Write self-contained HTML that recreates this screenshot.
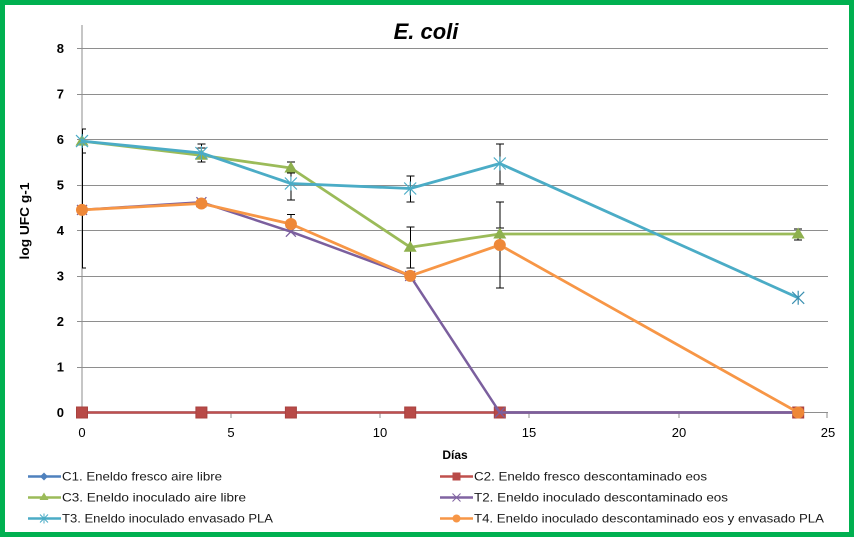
<!DOCTYPE html>
<html><head><meta charset="utf-8"><style>
html,body{margin:0;padding:0;background:#fff;}
svg{display:block;}
text{font-family:"Liberation Sans",Arial,sans-serif;}
</style></head><body>
<svg width="854" height="537" viewBox="0 0 854 537" xmlns="http://www.w3.org/2000/svg">
<rect x="0" y="0" width="854" height="537" fill="#ffffff"/>
<!-- border -->
<rect x="2.5" y="2.5" width="849" height="532" fill="none" stroke="#00B050" stroke-width="5"/>

<!-- title -->
<text x="426" y="39" font-size="22" font-weight="bold" font-style="italic" text-anchor="middle" fill="#000">E. coli</text>

<!-- gridlines -->
<g stroke="#8e8e8e" stroke-width="1" shape-rendering="crispEdges">
<line x1="77" y1="48.5" x2="828" y2="48.5"/>
<line x1="77" y1="94.5" x2="828" y2="94.5"/>
<line x1="77" y1="139.5" x2="828" y2="139.5"/>
<line x1="77" y1="185.5" x2="828" y2="185.5"/>
<line x1="77" y1="230.5" x2="828" y2="230.5"/>
<line x1="77" y1="276.5" x2="828" y2="276.5"/>
<line x1="77" y1="321.5" x2="828" y2="321.5"/>
<line x1="77" y1="367.5" x2="828" y2="367.5"/>
<line x1="77" y1="412.5" x2="828" y2="412.5"/>
<!-- y axis -->
<line x1="82" y1="25" x2="82" y2="413"/>
<!-- x ticks -->
<line x1="82" y1="412" x2="82" y2="418"/>
<line x1="231" y1="412" x2="231" y2="418"/>
<line x1="380" y1="412" x2="380" y2="418"/>
<line x1="529" y1="412" x2="529" y2="418"/>
<line x1="679" y1="412" x2="679" y2="418"/>
<line x1="827" y1="412" x2="827" y2="418"/>
</g>

<!-- y tick labels -->
<g font-size="13" font-weight="bold" text-anchor="end" fill="#000">
<text x="64" y="53">8</text>
<text x="64" y="98.5">7</text>
<text x="64" y="144">6</text>
<text x="64" y="189.5">5</text>
<text x="64" y="235">4</text>
<text x="64" y="280.5">3</text>
<text x="64" y="326">2</text>
<text x="64" y="371.5">1</text>
<text x="64" y="417">0</text>
</g>
<!-- x tick labels -->
<g font-size="13" text-anchor="middle" fill="#000">
<text x="82" y="437">0</text>
<text x="231" y="437">5</text>
<text x="380" y="437">10</text>
<text x="529" y="437">15</text>
<text x="679" y="437">20</text>
<text x="828" y="437">25</text>
</g>
<text x="455" y="459" font-size="12" font-weight="bold" text-anchor="middle" fill="#000">Días</text>
<text transform="translate(29,221) rotate(-90)" font-size="12.5" font-weight="bold" text-anchor="middle" textLength="77" lengthAdjust="spacingAndGlyphs" fill="#000">log UFC g-1</text>

<!-- error bars -->
<g stroke="#000" stroke-width="1" fill="none">
<path d="M82.5 129 V268 M82 129 H86 M82 153 H86 M82 268 H86"/>
<path d="M201.5 144 V162 M197.5 144 H205.5 M197.5 148 H205.5 M197.5 162 H205.5"/>
<path d="M291 162 V200 M287 162 H295 M287 173 H295 M287 200 H295 M291 214.5 V222 M287 214.5 H295"/>
<path d="M410.5 176 V202 M406.5 176 H414.5 M406.5 202 H414.5 M410.5 227 V268 M406.5 227 H414.5 M406.5 268 H414.5"/>
<path d="M500 144 V184 M496 144 H504 M496 184 H504 M500 202 V288 M496 202 H504 M496 228 H504 M496 288 H504"/>
<path d="M798 229 V240 M794 229 H802 M794 240 H802"/>
</g>

<!-- C1 blue (zeros, hidden) -->
<polyline points="82,412.5 201.4,412.5 290.9,412.5 410.2,412.5 499.8,412.5 798.2,412.5" fill="none" stroke="#4F81BD" stroke-width="2.5"/>
<!-- C2 red -->
<polyline points="82,412.5 201.4,412.5 290.9,412.5 410.2,412.5 499.8,412.5 798.2,412.5" fill="none" stroke="#C0504D" stroke-width="2.5"/>
<g fill="#B84A47" stroke="#A8423F" stroke-width="1">
<rect x="76.5" y="407" width="11" height="11"/>
<rect x="195.9" y="407" width="11" height="11"/>
<rect x="285.4" y="407" width="11" height="11"/>
<rect x="404.7" y="407" width="11" height="11"/>
<rect x="494.3" y="407" width="11" height="11"/>
<rect x="792.7" y="407" width="11" height="11"/>
</g>
<!-- C3 green -->
<polyline points="82,141.1 201.4,155.3 290.9,168 410.2,247.2 499.8,234 798.2,234" fill="none" stroke="#9BBB59" stroke-width="2.8" stroke-linejoin="round"/>
<g fill="#8EB04E">
<polygon points="82,134.6 88.5,145.6 75.5,145.6"/>
<polygon points="201.4,148.8 207.9,159.8 194.9,159.8"/>
<polygon points="290.9,161.5 297.4,172.5 284.4,172.5"/>
<polygon points="410.2,240.7 416.7,251.7 403.7,251.7"/>
<polygon points="499.8,227.5 506.3,238.5 493.3,238.5"/>
<polygon points="798.2,227.5 804.7,238.5 791.7,238.5"/>
</g>
<!-- T2 purple -->
<polyline points="82,209.9 201.4,202.2 290.9,231.7 410.2,275.9 499.8,412.5 798.2,412.5" fill="none" stroke="#7B5F9E" stroke-width="2.5" stroke-linejoin="round"/>
<g stroke="#7B5F9E" stroke-width="1.3" fill="none">
<path d="M77 204.9 L87 214.9 M77 214.9 L87 204.9"/>
<path d="M196.4 197.2 L206.4 207.2 M196.4 207.2 L206.4 197.2"/>
<path d="M285.9 226.7 L295.9 236.7 M285.9 236.7 L295.9 226.7"/>
<path d="M405.2 270.9 L415.2 280.9 M405.2 280.9 L415.2 270.9"/>
<path d="M494.8 407.5 L504.8 417.5 M494.8 417.5 L504.8 407.5"/>
</g>
<!-- T3 teal -->
<polyline points="82,141.1 201.4,153 290.9,183.5 410.2,188.5 499.8,163.5 798.2,297.8" fill="none" stroke="#4BACC6" stroke-width="2.8" stroke-linejoin="round"/>
<g stroke="#4BACC6" stroke-width="1.2" fill="none">
<path d="M76 135.1 L88 147.1 M76 147.1 L88 135.1 M82 134.1 V148.1"/>
<path d="M195.4 147 L207.4 159 M195.4 159 L207.4 147 M201.4 146 V160"/>
<path d="M284.9 177.5 L296.9 189.5 M284.9 189.5 L296.9 177.5 M290.9 176.5 V190.5"/>
<path d="M404.2 182.5 L416.2 194.5 M404.2 194.5 L416.2 182.5 M410.2 181.5 V195.5"/>
<path d="M493.8 157.5 L505.8 169.5 M493.8 169.5 L505.8 157.5 M499.8 156.5 V170.5"/>
<path d="M792.2 291.8 L804.2 303.8 M792.2 303.8 L804.2 291.8 M798.2 290.8 V304.8" stroke="#3A8FB0"/>
</g>
<!-- T4 orange -->
<polyline points="82,209.9 201.4,203.5 290.9,224 410.2,275.9 499.8,245 798.2,412.5" fill="none" stroke="#F79646" stroke-width="2.8" stroke-linejoin="round"/>
<g fill="#EE8838">
<circle cx="82" cy="209.9" r="6"/>
<circle cx="201.4" cy="203.5" r="6"/>
<circle cx="290.9" cy="224" r="6"/>
<circle cx="410.2" cy="275.9" r="6"/>
<circle cx="499.8" cy="245" r="6"/>
<circle cx="798.2" cy="412.5" r="6"/>
</g>

<!-- legend -->
<g>
<line x1="28" y1="476.5" x2="61" y2="476.5" stroke="#4F81BD" stroke-width="2.5"/>
<polygon points="44,472.5 48,476.5 44,480.5 40,476.5" fill="#4F81BD"/>
<line x1="28" y1="497.5" x2="61" y2="497.5" stroke="#9BBB59" stroke-width="2.5"/>
<polygon points="44,492.5 48.5,500 39.5,500" fill="#9BBB59"/>
<line x1="28" y1="518.5" x2="61" y2="518.5" stroke="#4BACC6" stroke-width="2.5"/>
<path d="M40 514.5 L48 522.5 M40 522.5 L48 514.5 M44 513.5 V523.5" stroke="#4BACC6" stroke-width="1"/>

<line x1="440" y1="476.5" x2="473" y2="476.5" stroke="#C0504D" stroke-width="2.5"/>
<rect x="452.5" y="472.5" width="8" height="8" fill="#B84A47"/>
<line x1="440" y1="497.5" x2="473" y2="497.5" stroke="#8064A2" stroke-width="2.5"/>
<path d="M452.5 493.5 L460.5 501.5 M452.5 501.5 L460.5 493.5" stroke="#8064A2" stroke-width="1"/>
<line x1="440" y1="518.5" x2="473" y2="518.5" stroke="#F79646" stroke-width="2.5"/>
<circle cx="456.5" cy="518.5" r="4" fill="#F79646"/>
</g>
<g font-size="12" fill="#1a1a1a" style="white-space:pre">
<text x="62" y="480.5" textLength="160" lengthAdjust="spacingAndGlyphs">C1. Eneldo fresco aire libre</text>
<text x="62" y="501.5" textLength="184" lengthAdjust="spacingAndGlyphs">C3. Eneldo inoculado  aire libre</text>
<text x="62" y="522.5" textLength="211" lengthAdjust="spacingAndGlyphs">T3. Eneldo inoculado  envasado PLA</text>
<text x="474" y="480.5" textLength="233" lengthAdjust="spacingAndGlyphs">C2. Eneldo fresco descontaminado eos</text>
<text x="474" y="501.5" textLength="254" lengthAdjust="spacingAndGlyphs">T2. Eneldo inoculado  descontaminado eos</text>
<text x="474" y="522.5" textLength="350" lengthAdjust="spacingAndGlyphs">T4. Eneldo inoculado  descontaminado eos y envasado PLA</text>
</g>
</svg>
</body></html>
